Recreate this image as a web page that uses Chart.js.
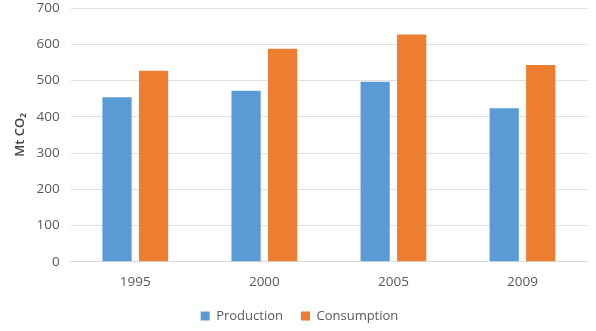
<!DOCTYPE html>
<html>
<head>
<meta charset="utf-8">
<script src="https://cdn.jsdelivr.net/npm/chart.js@4/dist/chart.umd.min.js"></script>
<style>
  html, body { margin: 0; padding: 0; background: #ffffff; }
  #wrap { width: 596px; height: 331px; }
</style>
</head>
<body>
<div id="wrap"><canvas id="chart" width="596" height="331"></canvas></div>
<script>
// Emissions by year, in megatonnes of CO2
const years = ['1995', '2000', '2005', '2009'];
const production = [454, 472, 497, 424];
const consumption = [527, 588, 627, 543];
const yTicks = [0, 100, 200, 300, 400, 500, 600, 700];

const FONT = "'Open Sans', 'DejaVu Sans', sans-serif";
const TEXT = '#595959';

new Chart(document.getElementById('chart'), {
  type: 'bar',
  data: {
    labels: years,
    datasets: [
      { label: 'Production', data: production, backgroundColor: '#5B9BD5', borderWidth: 0,
        categoryPercentage: 0.566, barPercentage: 0.8 },
      { label: 'Consumption', data: consumption, backgroundColor: '#ED7D31', borderWidth: 0,
        categoryPercentage: 0.566, barPercentage: 0.8 }
    ]
  },
  options: {
    responsive: false,
    animation: false,
    layout: { padding: { top: 0, right: 9, bottom: -1.5, left: 12 } },
    plugins: {
      tooltip: { enabled: false },
      legend: {
        position: 'bottom',
        labels: {
          boxWidth: 9, boxHeight: 9, padding: 18,
          color: TEXT, font: { family: FONT, size: 13 }
        }
      }
    },
    scales: {
      x: {
        // invisible tick marks keep the gap between the axis line and the year labels
        grid: { display: true, drawOnChartArea: false, drawTicks: true, tickLength: 12,
                color: 'rgba(0,0,0,0)', tickColor: 'rgba(0,0,0,0)' },
        border: { display: true, color: '#d9d9d9', width: 1 },
        ticks: { color: TEXT, padding: 0, font: { family: FONT, size: 13.5 } },
        afterFit: (scale) => { scale.height += 1.5; }
      },
      y: {
        min: 0, max: 700,
        afterBuildTicks: (axis) => { axis.ticks = yTicks.map(v => ({ value: v })); },
        grid: { color: '#e0e0e0', lineWidth: 1, drawTicks: true, tickLength: 11,
                tickColor: 'rgba(0,0,0,0)' },
        border: { display: false },
        ticks: { color: TEXT, padding: 0, font: { family: FONT, size: 13.5 } },
        title: {
          display: true, text: 'Mt CO\u2082', color: '#404040',
          padding: { top: 0, bottom: 9 },
          font: { family: FONT, size: 13, weight: '600' }
        }
      }
    }
  }
});
</script>
</body>
</html>
